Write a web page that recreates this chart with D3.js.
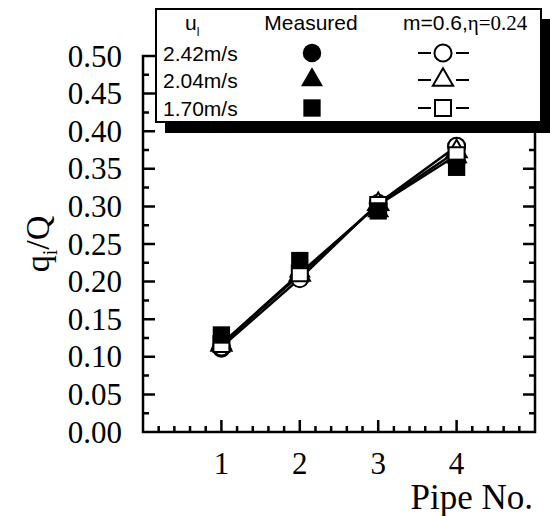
<!DOCTYPE html>
<html>
<head>
<meta charset="utf-8">
<script src="https://cdn.jsdelivr.net/npm/d3@7"></script>
<style>
  body { margin: 0; background: #fff; }
  svg { display: block; }
</style>
</head>
<body>
<div id="chart"></div>
<script>
// data
var pipes = [1, 2, 3, 4]
var speeds = ['2.42m/s', '2.04m/s', '1.70m/s']
var shapes = ['circle', 'triangle', 'square']
var measured242 = [0.111, 0.207, 0.301, 0.380]
var measured204 = [0.118, 0.214, 0.294, 0.366]
var measured170 = [0.129, 0.228, 0.294, 0.352]
var model242 = [0.113, 0.204, 0.304, 0.380]
var model204 = [0.116, 0.209, 0.303, 0.373]
var model170 = [0.117, 0.211, 0.302, 0.368]
var yTicks = [0, 0.05, 0.1, 0.15, 0.2, 0.25, 0.3, 0.35, 0.4, 0.45, 0.5]
var xTicks = [1, 2, 3, 4]

var W = 550, H = 516
var serif = "'Liberation Serif', 'Times New Roman', 'DejaVu Serif', serif"
var sans = "'Liberation Sans', Arial, sans-serif"

var svg = d3.select('#chart').append('svg')
    .attr('width', W).attr('height', H)

var x = d3.scaleLinear().domain([0, 5]).range([143, 535])
var y = d3.scaleLinear().domain([0, 0.5]).range([432, 56])

var symbolOf = { circle: d3.symbolCircle, triangle: d3.symbolTriangle, square: d3.symbolSquare }
var sizeOf = { circle: 270, triangle: 210, square: 300 }
function sym(shape, k) {
    return d3.symbol().type(symbolOf[shape]).size(sizeOf[shape] * (k || 1))()
}

// frame with inward ticks on all four sides, as one path
var xt = d3.range(0, 26).map(function(i) { return { v: i * 0.2, len: i % 5 === 0 ? 12 : 6 } })
var yt = d3.range(0, 21).map(function(i) { return { v: i * 0.025, len: i % 2 === 0 ? 12 : 6 } })
var tp = d3.path()
xt.forEach(function(t) {
    tp.moveTo(x(t.v), y(0)); tp.lineTo(x(t.v), y(0) - t.len)
    tp.moveTo(x(t.v), y(0.5)); tp.lineTo(x(t.v), y(0.5) + t.len)
})
yt.forEach(function(t) {
    tp.moveTo(x(0), y(t.v)); tp.lineTo(x(0) + t.len, y(t.v))
    tp.moveTo(x(5), y(t.v)); tp.lineTo(x(5) - t.len, y(t.v))
})
tp.rect(x(0), y(0.5), x(5) - x(0), y(0) - y(0.5))
svg.append('path')
    .attr('d', tp.toString())
    .attr('fill', 'none').attr('stroke', 'black').attr('stroke-width', 2.5)

// tick labels
svg.append('g').selectAll('text').data(yTicks).enter().append('text')
    .attr('x', 122).attr('y', function(d) { return y(d) })
    .attr('dy', '0.34em')
    .attr('text-anchor', 'end')
    .style('font-family', serif).style('font-size', '31px')
    .text(function(d) { return d3.format('.2f')(d) })

svg.append('g').selectAll('text').data(xTicks).enter().append('text')
    .attr('x', function(d) { return x(d) }).attr('y', 474)
    .attr('text-anchor', 'middle')
    .style('font-family', serif).style('font-size', '31px')
    .text(function(d) { return d })

svg.append('text')
    .attr('x', 533).attr('y', 509)
    .attr('text-anchor', 'end')
    .style('font-family', serif).style('font-size', '35px')
    .text('Pipe No.')

var yl = svg.append('text')
    .attr('transform', 'translate(49,244) rotate(-90)')
    .attr('text-anchor', 'middle')
    .style('font-family', serif).style('font-size', '34px')
yl.append('tspan').text('q')
yl.append('tspan').attr('dy', 8).style('font-size', '20px').text('i')
yl.append('tspan').attr('dy', -8).text('/Q')

// series
var model = [model242, model204, model170]
var line = d3.line()
    .x(function(d) { return x(d.p) })
    .y(function(d) { return y(d.v) })

var plot = svg.append('g')
model.forEach(function(vals) {
    plot.append('path')
        .datum(pipes.map(function(p, i) { return { p: p, v: vals[i] } }))
        .attr('d', line)
        .style('fill', 'none').style('stroke', '#000').style('stroke-width', '2.5px')
})

function drawPoints(vals, shape, filled) {
    plot.append('g').selectAll('path')
        .data(pipes.map(function(p, i) { return { p: p, v: vals[i] } }))
        .enter().append('path')
        .attr('transform', function(d) { return 'translate(' + x(d.p) + ',' + y(d.v) + ')' })
        .attr('d', sym(shape, filled ? 1 : 0.85))
        .style('fill', filled ? '#000' : '#fff')
        .style('stroke', '#000').style('stroke-width', filled ? '0px' : '2px')
}
drawPoints(measured242, 'circle', true)
drawPoints(model242, 'circle', false)
drawPoints(measured204, 'triangle', true)
drawPoints(model204, 'triangle', false)
drawPoints(model170, 'square', false)
drawPoints(measured170, 'square', true)

// legend box with drop shadow
var lg = svg.append('g')
lg.append('rect').attr('x', 165).attr('y', 19)
    .attr('width', 390).attr('height', 114).style('fill', '#000')
lg.append('rect').attr('x', 156).attr('y', 9)
    .attr('width', 385).attr('height', 113)
    .style('fill', '#fff').style('stroke', '#000').style('stroke-width', '2px')

var hdr = lg.append('text').attr('x', 185).attr('y', 30)
    .style('font-family', sans).style('font-size', '21px')
hdr.append('tspan').text('u')
hdr.append('tspan').attr('dy', 6).style('font-size', '12px').text('l')

lg.append('text').attr('x', 311).attr('y', 30)
    .attr('text-anchor', 'middle')
    .style('font-family', sans).style('font-size', '21px')
    .text('Measured')

var mh = lg.append('text').attr('x', 403).attr('y', 30)
    .style('font-size', '21px')
mh.append('tspan').style('font-family', sans).text('m=0.6,')
mh.append('tspan').style('font-family', serif).text('η=0.24')

var rowY = [53, 80, 108]
speeds.forEach(function(s, i) {
    lg.append('text').attr('x', 163).attr('y', rowY[i])
        .attr('dy', '0.36em')
        .style('font-family', sans).style('font-size', '21px')
        .text(s)
    lg.append('path')
        .attr('transform', 'translate(312,' + rowY[i] + ')')
        .attr('d', sym(shapes[i], 1))
        .style('fill', '#000')
    lg.append('line').attr('x1', 418).attr('x2', 431)
        .attr('y1', rowY[i]).attr('y2', rowY[i])
        .style('stroke', '#000').style('stroke-width', '2px')
    lg.append('line').attr('x1', 456).attr('x2', 469)
        .attr('y1', rowY[i]).attr('y2', rowY[i])
        .style('stroke', '#000').style('stroke-width', '2px')
    lg.append('path')
        .attr('transform', 'translate(443,' + rowY[i] + ')')
        .attr('d', sym(shapes[i], 0.85))
        .style('fill', '#fff').style('stroke', '#000').style('stroke-width', '2px')
})
</script>
</body>
</html>
